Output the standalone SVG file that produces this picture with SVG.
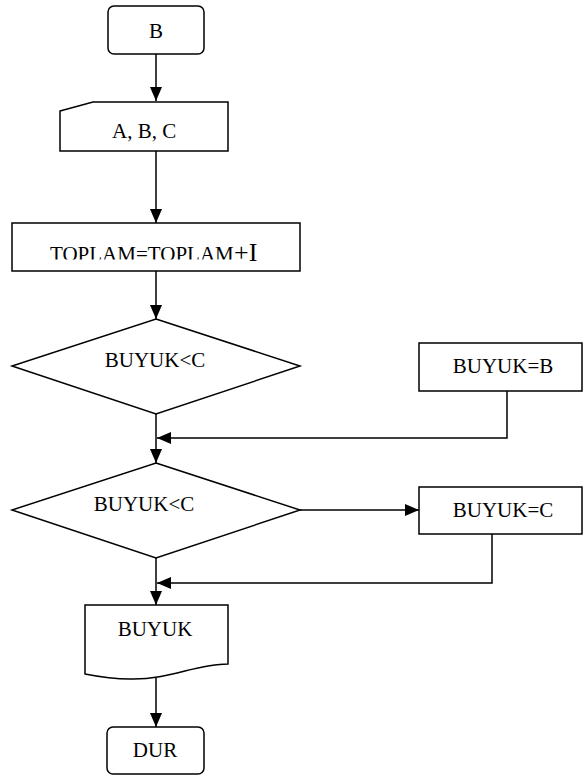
<svg xmlns="http://www.w3.org/2000/svg" width="583" height="776" viewBox="0 0 583 776" font-family="'Liberation Serif', 'Times New Roman', 'DejaVu Serif', serif">
<style>
.s{fill:#fff;stroke:#000;stroke-width:1.5}
.c{fill:none;stroke:#000;stroke-width:1.5}
text{font-family:'Liberation Serif','Times New Roman','DejaVu Serif',serif;font-size:21px;fill:#000}
.m{text-anchor:middle}
</style>
<defs>
<marker id="a" markerUnits="userSpaceOnUse" markerWidth="14" markerHeight="12" viewBox="0 0 14 12" refX="14" refY="6" orient="auto">
<path d="M0,0 L14,6 L0,12 Z" fill="#000"/>
</marker>
<clipPath id="clipT"><rect x="0" y="230" width="234" height="29.5"/></clipPath>
</defs>
<rect width="583" height="776" fill="#fff"/>
<g id="connectors">
<line class="c" x1="156" y1="54" x2="156" y2="101" marker-end="url(#a)"/>
<line class="c" x1="156" y1="151" x2="156" y2="223" marker-end="url(#a)"/>
<line class="c" x1="156" y1="271" x2="156" y2="319" marker-end="url(#a)"/>
<line class="c" x1="156" y1="414" x2="156" y2="463" marker-end="url(#a)"/>
<polyline class="c" points="507,391 507,438 157,438" marker-end="url(#a)"/>
<line class="c" x1="300" y1="510" x2="419" y2="510" marker-end="url(#a)"/>
<polyline class="c" points="492,534 492,583 157,583" marker-end="url(#a)"/>
<line class="c" x1="156" y1="558" x2="156" y2="605" marker-end="url(#a)"/>
<line class="c" x1="156" y1="678" x2="156" y2="727" marker-end="url(#a)"/>
</g>
<g id="start">
<rect class="s" x="108" y="6" width="96" height="48" rx="6"/>
<text class="m" x="156" y="38">B</text>
</g>
<g id="input">
<path class="s" d="M60,111 L93,102 L228,102 L228,151 L60,151 Z"/>
<text x="112" y="138">A, B, C</text>
</g>
<g id="process">
<rect class="s" x="12" y="223" width="288" height="48"/>
<text x="50" y="261" clip-path="url(#clipT)">TOPLAM=TOPLAM</text>
<text x="234" y="261" style="font-size:26px">+I</text>
</g>
<g id="decision1">
<polygon class="s" points="156,319 300,366 156,414 12,366"/>
<text class="m" x="155" y="367">BUYUK&lt;C</text>
</g>
<g id="assignB">
<rect class="s" x="419" y="343" width="163" height="48"/>
<text class="m" x="503" y="373">BUYUK=B</text>
</g>
<g id="decision2">
<polygon class="s" points="156,463 300,510 156,558 12,510"/>
<text class="m" x="144" y="511">BUYUK&lt;C</text>
</g>
<g id="assignC">
<rect class="s" x="419" y="487" width="163" height="47"/>
<text class="m" x="503" y="517">BUYUK=C</text>
</g>
<g id="output">
<path class="s" d="M85,605 L228,605 L228,664 C195,664 170,680 130,679 C110,679 95,676 85,674 Z"/>
<text class="m" x="155" y="636">BUYUK</text>
</g>
<g id="end">
<rect class="s" x="107" y="727" width="97" height="47" rx="6"/>
<text class="m" x="155" y="757">DUR</text>
</g>
</svg>
